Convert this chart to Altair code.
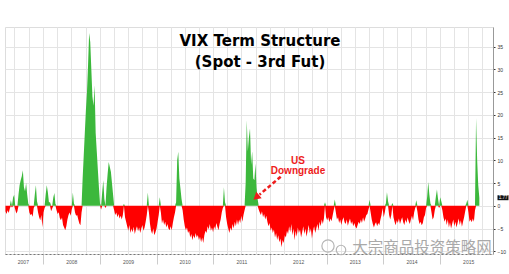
import altair as alt
import pandas as pd

# Spot VIX minus 3rd-month VIX future, one reading per week starting 2007-05-04
spread_part1 = [
    -1.2, -1.8, -1.0, -1.6, -0.6, 1.2, -0.4, 1.8, 2.4, -0.8,
    -1.7, -1.2, 2.5, 4.5, 5.6, 6.5, 7.8, 4.1, 3.2, 5.0,
    2.5, 0.5, -1.5, -2.0, -1.8, -2.4, -0.5, 2.5, 4.5, 1.0,
    -1.5, -2.5, -3.2, -2.0, -4.7, -1.5, -0.5, 2.5, 4.5, 3.0,
    0.8, 0.8, -1.2, -0.6, 1.8, 2.8, 0.4, -1.0, -1.8, -1.4,
]
spread_part2 = [
    -2.7, -3.2, -2.6, -4.2, -4.8, -5.4, -4.5, -3.0, -2.0, -1.5,
    -2.2, -0.8, 2.9, 0.5, -1.5, -2.2, -2.0, -3.0, -3.9, -4.3,
    -1.5, 6.0, 11.0, 16.0, 21.0, 25.0, 31.0, 38.0, 36.0, 30.0,
    24.0, 22.0, 26.5, 16.0, 12.0, 8.0, 4.0, 0.5, -0.8, 3.0,
    5.6, 1.5, -0.5, 4.0, 7.0, 9.6, 8.5, 7.5, 5.0, 2.5,
]
spread_part3 = [
    -1.0, -2.0, -1.5, -2.5, -1.8, -2.8, -2.2, -3.0, -2.0, 0.4,
    -2.5, -3.5, -4.5, -5.5, -4.2, -6.0, -5.0, -5.8, -4.6, -6.2,
    -5.2, -4.5, -5.6, -4.8, -6.0, -5.0, -4.2, -5.5, -4.8, -3.5,
    -2.0, 2.9, -1.5, -4.0, -5.5, -6.2, -5.0, -6.5, -5.8, -5.0,
    -3.5, -2.0, 1.9, -1.5, -3.9, -3.0, -4.2, -3.5, -4.8, -4.0,
]
spread_part4 = [
    -5.0, -5.4, -4.5, -5.4, -3.8, -2.5, -1.5, 0.8, 10.0, 11.9,
    6.0, 3.8, 1.5, -1.0, -3.0, -4.5, -5.4, -4.8, -6.0, -5.5,
    -7.0, -6.2, -7.6, -6.5, -7.2, -6.0, -7.0, -6.4, -7.5, -6.8,
    -8.0, -7.0, -8.2, -6.5, -5.5, -6.0, -4.5, -5.2, -4.0, -5.5,
    -4.8, -5.8, -4.5, -5.2, -3.8, -4.6, -5.4, -4.0, -3.0, -1.5,
]
spread_part5 = [
    -0.5, 4.1, 0.8, -2.5, -4.0, -5.0, -6.0, -4.8, -5.5, -4.0,
    -5.0, -3.5, -4.5, -3.0, -4.2, -3.0, -3.8, -2.2, -3.5, -2.0,
    -1.0, 5.0, 18.8, 12.0, 15.0, 17.0, 9.0, 12.0, 6.0, 5.6,
    9.3, 4.0, 1.5, -0.8, -1.5, -2.0, -1.2, -2.5, -1.8, -3.0,
    -2.2, -3.5, -4.5, -3.8, -5.5, -4.8, -6.0, -5.2, -7.0, -6.0,
]
spread_part6 = [
    -7.5, -6.5, -8.0, -7.2, -9.1, -7.5, -8.2, -6.5, -7.0, -5.5,
    -6.2, -4.5, -5.8, -4.0, -6.5, -5.0, -7.6, -5.5, -6.8, -4.8,
    -6.0, -5.2, -7.0, -5.8, -4.5, -6.2, -5.0, -6.8, -5.5, -4.2,
    -6.0, -5.0, -7.2, -5.5, -4.5, -6.0, -5.0, -4.0, -5.5, -3.5,
    -4.5, -3.0, -4.0, -2.8, 0.8, -2.5, -3.2, -2.5, -3.6, -2.8,
]
spread_part7 = [
    -3.4, -2.2, -1.0, 1.4, -1.5, -3.0, -2.5, -3.8, -3.0, -4.2,
    -3.2, -2.5, -3.6, -4.0, -3.0, -4.4, -3.5, -2.8, -4.0, -3.4,
    -4.5, -3.8, -4.6, -5.0, -4.2, -3.5, -4.0, -3.0, -3.8, -2.5,
    -3.5, -2.8, -2.0, -1.8, -0.8, 1.3, -1.5, -3.0, -4.0, -4.8,
    -4.0, -3.6, -4.5, -3.8, -4.2, -3.0, -2.0, -0.5, -2.5, -1.5,
]
spread_part8 = [
    0.5, 3.0, 1.0, -2.0, -3.0, -2.0, 0.6, -2.5, -3.5, -4.3,
    -3.2, -3.8, -2.8, -4.0, -3.2, -2.5, -3.6, -4.2, -3.0, -3.8,
    -2.6, -3.4, -4.0, -3.0, -2.2, -3.2, -1.5, -0.5, 1.2, -1.2,
    -3.0, -4.0, -3.5, -4.3, -3.8, -2.5, -2.0, -0.5, 2.0, 5.2,
    2.5, 0.5, -1.5, -3.0, -2.5, -1.0, 2.0, 3.6, 1.5, -0.5,
]
spread_part9 = [
    1.9, 1.0, -1.0, -2.5, -3.5, -2.8, -4.2, -3.0, -4.8, -3.6,
    -5.0, -4.0, -3.0, -4.5, -3.5, -4.8, -3.8, -2.8, -4.2, -3.2,
    -4.6, -3.5, -2.5, -1.2, 0.5, 1.3, -1.5, -3.5, -3.0, -3.6,
    -2.8, -3.5, -1.0, 19.3, 10.0, 4.5, 1.77,
]

y_ticks = [-10, -5, 0, 5, 10, 15, 20, 25, 30, 35]
title_lines = ["VIX Term Structure", "(Spot - 3rd Fut)"]
note_lines = ["US", "Downgrade"]
watermark = "大宗商品投资策略网"

values = (spread_part1 + spread_part2 + spread_part3 + spread_part4 + spread_part5
          + spread_part6 + spread_part7 + spread_part8 + spread_part9)
weeks = pd.date_range("2007-05-04", periods=len(values), freq="7D")
df = pd.DataFrame({"week": weeks, "spread": values})
df["pos"] = df["spread"].clip(lower=0)
df["neg"] = df["spread"].clip(upper=0)

# quarter gridlines, January ticks, labels in mid-year (2007 centred on its visible part)
axis_dates = []
for yr in range(2007, 2016):
    for mo in (1, 4, 7, 10):
        if (yr, mo) not in ((2007, 1), (2007, 4)):
            axis_dates.append(alt.DateTime(year=yr, month=mo, date=1))
axis_dates.append(alt.DateTime(year=2007, month=8, date=24))

x_scale = alt.Scale(domain=[alt.DateTime(year=2007, month=5, date=1),
                            alt.DateTime(year=2015, month=12, date=8)])
y_scale = alt.Scale(domain=[-10.6, 39.3], nice=False, zero=False)

x_axis = alt.Axis(
    values=axis_dates, title=None,
    grid=True, gridColor="#e4e4e4", gridWidth=1,
    gridOpacity={"expr": "date(datum.value) == 1 ? 1 : 0"},
    ticks=True, tickSize=10, tickColor="#cccccc",
    tickOpacity={"expr": "month(datum.value) == 0 && date(datum.value) == 1 ? 1 : 0"},
    labelExpr="(month(datum.value) == 6 && date(datum.value) == 1 && year(datum.value) > 2007) || "
              "(month(datum.value) == 7 && date(datum.value) == 24) ? timeFormat(datum.value, '%Y') : ''",
    labelFont="Liberation Sans", labelFontSize=5, labelColor="#555555",
    labelPadding=-5, labelOverlap=False, labelFlush=False,
    domainColor="#777777", domainDash=[2, 2],
)
y_axis = alt.Axis(
    orient="right", values=y_ticks, title=None,
    grid=True, gridColor="#e4e4e4", gridWidth=1,
    domainColor="#999999", tickColor="#333333", tickSize=2,
    labelFont="Liberation Sans", labelFontSize=5, labelColor="#333333", labelPadding=2,
    labelOverlap=False, labelFlush=False,
)

base = alt.Chart(df)
pos_area = base.mark_area(color="#3cb83c", interpolate="linear").encode(
    x=alt.X("week:T", scale=x_scale, axis=x_axis),
    y=alt.Y("pos:Q", scale=y_scale, axis=y_axis),
)
neg_area = base.mark_area(color="#ff0000", interpolate="linear").encode(
    x=alt.X("week:T", scale=x_scale, axis=x_axis),
    y=alt.Y("neg:Q", scale=y_scale, axis=y_axis),
)

title_df = pd.DataFrame({"t": title_lines, "py": [14, 35]})
title = alt.Chart(title_df).mark_text(
    font="DejaVu Sans", fontSize=15, fontWeight="bold", color="#000000", baseline="middle"
).encode(text="t:N", x=alt.value(255), y=alt.Y("py:Q", scale=None))

note_df = pd.DataFrame({"t": note_lines, "py": [133.5, 144]})
note = alt.Chart(note_df).mark_text(
    font="Liberation Sans", fontSize=10, fontWeight="bold", color="#ee1c1c", baseline="middle"
).encode(text="t:N", x=alt.value(293), y=alt.Y("py:Q", scale=None))

arrow_line = alt.Chart(pd.DataFrame({"a": [0]})).mark_rule(
    color="#ee1c1c", strokeWidth=2.5, strokeDash=[4, 2.5]
).encode(x=alt.value(275.7), y=alt.value(149.7), x2=alt.value(254.6), y2=alt.value(167.6))
arrow_head = alt.Chart(pd.DataFrame({"a": [0]})).mark_point(
    shape="triangle-up", filled=True, color="#ee1c1c", opacity=1, size=70, angle=230
).encode(x=alt.value(251.2), y=alt.value(170.4))

wm_text = alt.Chart(pd.DataFrame({"t": [watermark]})).mark_text(
    font="Noto Sans CJK SC", fontSize=15.5, color="#a9a9a9", baseline="middle", align="center"
).encode(text="t:N", x=alt.value(417), y=alt.value(221))
wm_icon = alt.Chart(pd.DataFrame({"px": [323, 336], "py": [219, 223], "s": [150, 90]})).mark_point(
    shape="circle", filled=False, color="#b5b5b5", strokeWidth=1.2, opacity=1
).encode(x=alt.X("px:Q", scale=None), y=alt.Y("py:Q", scale=None),
         size=alt.Size("s:Q", scale=None, legend=None))

# boxed read-out of the latest value beside the right axis
last_df = df.tail(1)
last_box = alt.Chart(last_df).mark_point(
    shape="M-1,-0.45L1,-0.45L1,0.45L-1,0.45Z", filled=True, color="#111111", opacity=1, size=121
).encode(x=alt.value(498), y=alt.Y("spread:Q", scale=y_scale, axis=y_axis))
last_text = alt.Chart(last_df).mark_text(
    font="Liberation Sans", fontSize=4.5, color="#ffffff", baseline="middle", align="center"
).encode(x=alt.value(498), y=alt.Y("spread:Q", scale=y_scale, axis=y_axis),
         text=alt.Text("spread:Q", format=".2f"))

chart = alt.layer(
    pos_area, neg_area, title, note, arrow_line, arrow_head, wm_icon, wm_text, last_box, last_text
).properties(
    width=488, height=227, autosize="none",
    padding={"left": 5, "top": 27, "right": 16, "bottom": 20},
).configure_view(strokeWidth=0).configure(background="#ffffff")

chart.save("out.html", embed_options={"renderer": "svg", "actions": False})
